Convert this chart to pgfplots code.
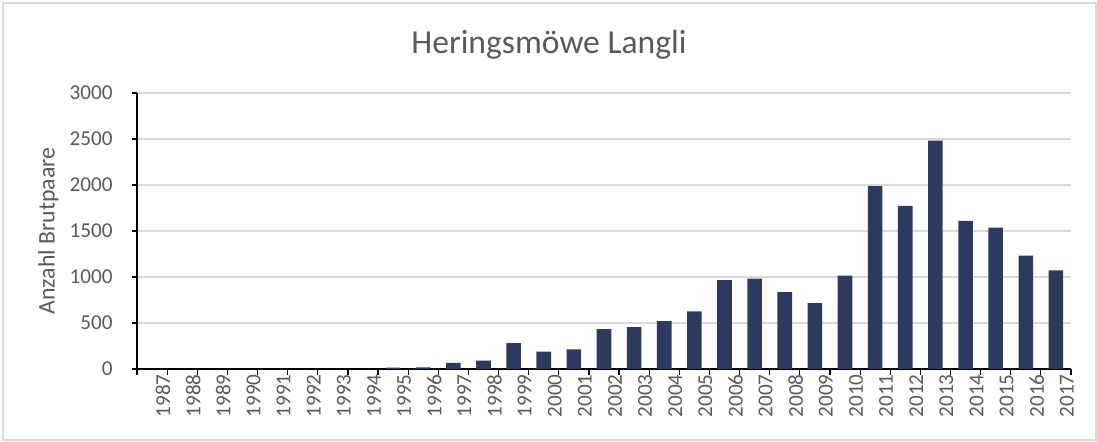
\documentclass[border=0pt]{standalone}
\usepackage{fontspec}
\setmainfont{Carlito}
\usepackage{pgfplots}
\pgfplotsset{compat=1.18}
\definecolor{barblue}{HTML}{2C3A60}
\definecolor{txtgray}{HTML}{595959}
\definecolor{gridgray}{HTML}{D9D9D9}
\begin{document}
\begin{tikzpicture}
\useasboundingbox (0,0) rectangle (548.5pt,221pt);
\draw[gridgray, line width=0.8pt] (1.5pt,1pt) rectangle (548pt,219.5pt);
\node[anchor=base, text=txtgray, font=\fontsize{16.8}{20}\selectfont, inner sep=0pt] at (274.5pt,194.35pt) {Heringsmöwe Langli};
\begin{axis}[
  at={(68.5pt,36.5pt)}, anchor=south west,
  scale only axis, width=467pt, height=138pt,
  xmin=-0.5, xmax=30.5, ymin=0, ymax=3000,
  ybar, bar width=7.3pt, bar shift=0pt,
  axis x line*=bottom, axis y line*=left,
  axis line style={black, line width=0.6pt, -},
  xtick={0,...,30},
  xticklabels={1987,1988,1989,1990,1991,1992,1993,1994,1995,1996,1997,1998,1999,2000,2001,2002,2003,2004,2005,2006,2007,2008,2009,2010,2011,2012,2013,2014,2015,2016,2017},
  major x tick style={draw=none},
  minor xtick={-0.5,0.5,...,30.5},
  minor tick length=3pt,
  tick align=outside,
  major tick length=2.5pt,
  tick style={black, line width=0.6pt},
  ytick={0,500,...,3000},
  ymajorgrids, grid style={gridgray, line width=0.8pt},
  /pgf/number format/assume math mode=true,
  /pgf/number format/set thousands separator={},
  tick label style={text=txtgray, font=\fontsize{10.6}{12}\selectfont},
  xticklabel style={rotate=90, anchor=east, inner sep=0pt, xshift=0pt, yshift=-5.5pt},
  yticklabel style={anchor=east, inner sep=0pt, xshift=-9.5pt},
  ylabel={Anzahl Brutpaare},
  ylabel style={text=txtgray, font=\fontsize{11.9}{13}\selectfont, yshift=2pt},
  clip=false,
]
\addplot[fill=barblue, draw=none] coordinates {
(0,0) (1,0) (2,0) (3,0) (4,0) (5,0) (6,0) (7,0)
(8,15) (9,18) (10,66) (11,91) (12,281) (13,190) (14,212) (15,434)
(16,456) (17,521) (18,625) (19,967) (20,981) (21,836) (22,716) (23,1014)
(24,1988) (25,1773) (26,2482) (27,1610) (28,1537) (29,1232) (30,1072)
};
\end{axis}
\end{tikzpicture}
\end{document}
